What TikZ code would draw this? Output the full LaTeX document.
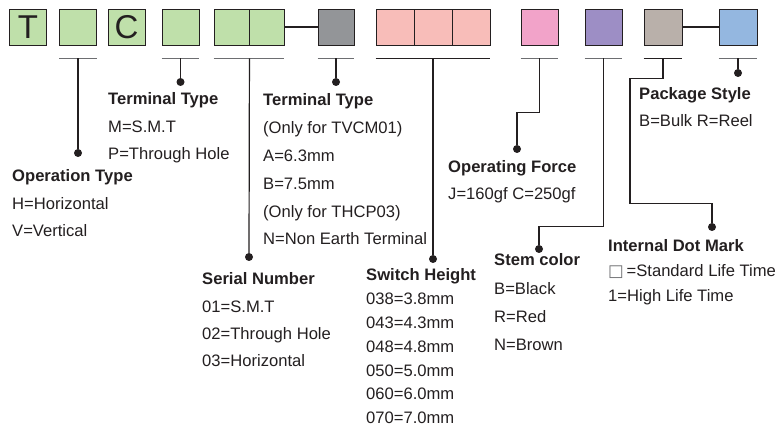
\documentclass[tikz,border=0pt]{standalone}
\usepackage{fontspec}
\setmainfont{Liberation Sans}
\newfontfamily\SymFont{DejaVu Sans}
\definecolor{Ink}{HTML}{231F20}
\definecolor{Rule}{HTML}{6D6E71}
\definecolor{Leaf}{HTML}{BFE0AA}
\definecolor{Slate}{HTML}{939598}
\definecolor{Salmon}{HTML}{F8BDB9}
\definecolor{Rose}{HTML}{F2A3C9}
\definecolor{Lilac}{HTML}{9D8EC5}
\definecolor{Taupe}{HTML}{B9B0AA}
\definecolor{Sky}{HTML}{94B7E0}

\tikzset{
  digit/.style={draw=Ink, line width=0.9pt, minimum width=37pt,
    minimum height=36pt, inner sep=0pt, text=Ink,
    font=\fontsize{33}{33}\selectfont},
  head/.style={anchor=base west, inner sep=0pt, text=Ink,
    font=\fontsize{16.6}{18}\bfseries},
  item/.style={anchor=base west, inner sep=0pt, text=Ink,
    font=\fontsize{16.6}{18}\selectfont},
  lead/.style={draw=Ink, line width=1.2pt},
  under/.style={draw=Rule, line width=1.3pt},
  tip/.style={circle, fill=Ink, inner sep=0pt, minimum size=8pt}
}

\begin{document}
\begin{tikzpicture}[x=1pt,y=-1pt]

  \useasboundingbox (0,0) rectangle (780,430);

  % code boxes
  \node[digit, fill=Leaf] (d1) at (28,27) {T};
  \node[digit, fill=Leaf] (d2) at (78,27) {};
  \node[digit, fill=Leaf] (d3) at (126.5,27) {C};
  \node[digit, fill=Leaf] (d4) at (180.5,27) {};
  \node[digit, fill=Leaf, minimum width=35pt] (d5) at (231.5,27) {};
  \node[digit, fill=Leaf, minimum width=35pt] (d6) at (266.5,27) {};
  \node[digit, fill=Slate, minimum width=36pt] (d7) at (336,27) {};
  \node[digit, fill=Salmon, minimum width=38pt] (d8) at (395,27) {};
  \node[digit, fill=Salmon, minimum width=38pt] (d9) at (433,27) {};
  \node[digit, fill=Salmon, minimum width=38pt] (d10) at (471,27) {};
  \node[digit, fill=Rose] (d11) at (539.5,27) {};
  \node[digit, fill=Lilac] (d12) at (603.5,27) {};
  \node[digit, fill=Taupe, minimum width=38pt] (d13) at (663,27) {};
  \node[digit, fill=Sky, minimum width=38pt] (d14) at (738,27) {};

  \draw[lead] (d6) -- (d7);
  \draw[lead] (d13) -- (d14);

  % underlines
  \foreach \a/\b in {d2/d2, d4/d4, d5/d6, d7/d7, d11/d11, d12/d12, d14/d14}
    \draw[under] ([yshift=-13pt]\a.south west) -- ([yshift=-13pt]\b.south east);
  \foreach \a/\b in {d8/d10, d13/d13}
    \draw[lead, line width=1.6pt] ([yshift=-13pt]\a.south west) -- ([yshift=-13pt]\b.south east);

  % dots
  \node[tip] (p2) at (78,153) {};
  \node[tip] (p4) at (180.5,82) {};
  \node[tip] (p5) at (249,257) {};
  \node[tip] (p7) at (336,82) {};
  \node[tip] (p8) at (433,259) {};
  \node[tip] (p11) at (517,149) {};
  \node[tip] (p12) at (539,249) {};
  \node[tip] (p13) at (712,227) {};
  \node[tip] (p14) at (738,73) {};

  % leaders
  \draw[lead] ([yshift=-13pt]d2.south) -- (p2);
  \draw[lead] ([yshift=-13pt]d4.south) -- (p4);
  \draw[lead] ([yshift=-13pt]d5.south east) -- (p5);
  \draw[lead] ([yshift=-13pt]d7.south) -- (p7);
  \draw[lead] ([yshift=-13pt]d9.south) -- (p8);
  \draw[lead] ([yshift=-13pt]d11.south) -- ++(0,54) -| (p11);
  \draw[lead] ([yshift=-13pt]d12.south) -- ++(0,168) -| (p12);
  \draw[lead] ([yshift=-13pt]d13.south) -- ++(0,20) -- ++(-33,0)
    -- ++(0,125) -| (p13);
  \draw[lead] ([yshift=-13pt]d14.south) -- (p14);

  % labels
  \node[head] (terminal) at (108,105) {Terminal Type};
  \foreach \txt [count=\i] in {M=S.M.T, P=Through Hole}
    \node[item] (terminal-\i) at (108,105+27.5*\i) {\txt};

  \node[head] (operation) at (12,182) {Operation Type};
  \foreach \txt [count=\i] in {H=Horizontal, V=Vertical}
    \node[item] (operation-\i) at (12,182+27.5*\i) {\txt};

  \node[head] (earth) at (263,105.5) {Terminal Type};
  \foreach \txt [count=\i] in {{(Only for TVCM01)}, A=6.3mm, B=7.5mm,
      {(Only for THCP03)}, N=Non Earth Terminal}
    \node[item] (earth-\i) at (263,105.5+27.9*\i) {\txt};

  \node[head] (serial) at (202,285) {Serial Number};
  \foreach \txt [count=\i] in {01=S.M.T, 02=Through Hole, 03=Horizontal}
    \node[item] (serial-\i) at (202,285+27.3*\i) {\txt};

  \node[head] (height) at (366,281) {Switch Height};
  \foreach \txt [count=\i] in {038=3.8mm, 043=4.3mm, 048=4.8mm,
      050=5.0mm, 060=6.0mm, 070=7.0mm}
    \node[item] (height-\i) at (366,281+23.8*\i) {\txt};

  \node[head] (force) at (448,173) {Operating Force};
  \node[item] (force-1) at (448,200) {J=160gf C=250gf};

  \node[head] (stem) at (494,266) {Stem color};
  \foreach \txt [count=\i] in {B=Black, R=Red, N=Brown}
    \node[item] (stem-\i) at (494,266+28.3*\i) {\txt};

  \node[head] (package) at (639,100) {Package Style};
  \node[item] (package-1) at (639,127) {B=Bulk R=Reel};

  \node[head] (dotmark) at (608,252) {Internal Dot Mark};
  \node[item] (dotmark-1) at (608,277)
    {{\SymFont\textcolor{Rule}{□}}\,=Standard Life Time};
  \node[item] (dotmark-2) at (608,302) {1=High Life Time};

\end{tikzpicture}
\end{document}
